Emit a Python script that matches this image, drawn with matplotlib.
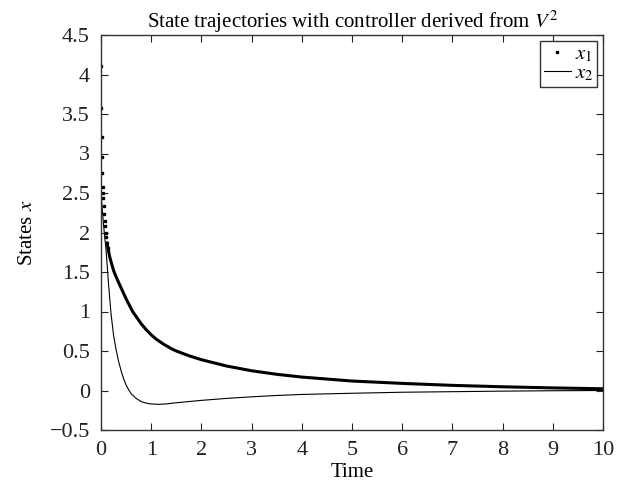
import matplotlib
matplotlib.use("Agg")
import matplotlib.pyplot as plt
from matplotlib.lines import Line2D

plt.rcParams['font.family'] = ['Liberation Serif', 'DejaVu Serif']
plt.rcParams['mathtext.fontset'] = 'stix'

# x1 samples (dense initial samples then smooth decay)
t1 = [0.0, 0.006, 0.012, 0.018, 0.024, 0.03, 0.036, 0.042, 0.05, 0.06, 0.07,
      0.08, 0.09, 0.10, 0.12, 0.14, 0.17, 0.2, 0.25, 0.3, 0.37, 0.45, 0.5,
      0.63, 0.8, 0.9, 1.0, 1.1, 1.25, 1.4, 1.5, 1.75, 2.0, 2.5, 3.0, 3.5,
      4.0, 4.5, 5.0, 6.0, 7.0, 8.0, 9.0, 10.0]
x1 = [4.11, 3.57, 3.21, 2.95, 2.75, 2.58, 2.50, 2.44, 2.33, 2.24, 2.15,
      2.08, 2.00, 1.94, 1.87, 1.80, 1.70, 1.63, 1.52, 1.44, 1.34, 1.23, 1.16,
      1.00, 0.845, 0.77, 0.705, 0.65, 0.585, 0.53, 0.50, 0.44, 0.39, 0.31,
      0.25, 0.205, 0.17, 0.145, 0.12, 0.09, 0.065, 0.047, 0.033, 0.022]

# x2 samples
t2 = [0.0, 0.05, 0.1, 0.15, 0.2, 0.25, 0.3, 0.35, 0.4, 0.45, 0.5, 0.55, 0.6,
      0.7, 0.8, 0.9, 1.0, 1.15, 1.3, 1.5, 1.75, 2.0, 2.5, 3.0, 3.5, 4.0,
      5.0, 6.0, 7.0, 8.0, 9.0, 10.0]
x2 = [2.5, 2.1, 1.78, 1.35, 0.97, 0.70, 0.52, 0.37, 0.25, 0.15, 0.07, 0.01,
      -0.04, -0.10, -0.14, -0.16, -0.17, -0.175, -0.17, -0.155, -0.14,
      -0.125, -0.10, -0.08, -0.063, -0.05, -0.035, -0.022, -0.015, -0.008,
      -0.003, 0.0]

xticks = list(range(0, 11))
yticks = [-0.5, 0, 0.5, 1, 1.5, 2, 2.5, 3, 3.5, 4, 4.5]
ytick_labels = ['\u22120.5', '0', '0.5', '1', '1.5', '2', '2.5', '3', '3.5', '4', '4.5']

fig = plt.figure(figsize=(6.28, 4.95), dpi=100)
ax = fig.add_axes([101/628, 1-430/495, (603-101)/628, (430-35)/495])

n_sparse = 16
ax.plot(t1[:n_sparse], x1[:n_sparse], linestyle='none', marker='s', ms=1.8,
        color='black')
ax.plot(t1[n_sparse-2:], x1[n_sparse-2:], color='black', lw=2.2,
        solid_capstyle='round', solid_joinstyle='round')
ax.plot(t2, x2, color='black', lw=0.8, solid_joinstyle='round')

ax.set_xlim(0, 10)
ax.set_ylim(-0.5, 4.5)
ax.set_xticks(xticks)
ax.set_xticklabels([str(v) for v in xticks])
ax.set_yticks(yticks)
ax.set_yticklabels(ytick_labels)
ax.tick_params(direction='in', top=True, right=True, length=5, width=0.8,
               labelsize=16, pad=8, colors='#222222')
for s in ax.spines.values():
    s.set_linewidth(1.0)
    s.set_color('#333333')

ax.set_xlabel('Time', fontsize=15, labelpad=2)
ax.set_ylabel('States $x$', fontsize=15, labelpad=9)
ax.set_title('State trajectories with controller derived from $V^2$',
             fontsize=15, pad=5)

handles = [Line2D([], [], linestyle='none', marker='s', ms=1.8, color='black'),
           Line2D([], [], color='black', lw=0.8)]
leg = ax.legend(handles, ['$x_1$', '$x_2$'], loc='upper right', fontsize=15,
                fancybox=False, edgecolor='#333333', framealpha=1,
                handlelength=1.3, handletextpad=0.2, borderpad=0.15,
                labelspacing=0.0, borderaxespad=0.3)
leg.get_frame().set_linewidth(1.0)

fig.savefig('out.png', dpi=100)
